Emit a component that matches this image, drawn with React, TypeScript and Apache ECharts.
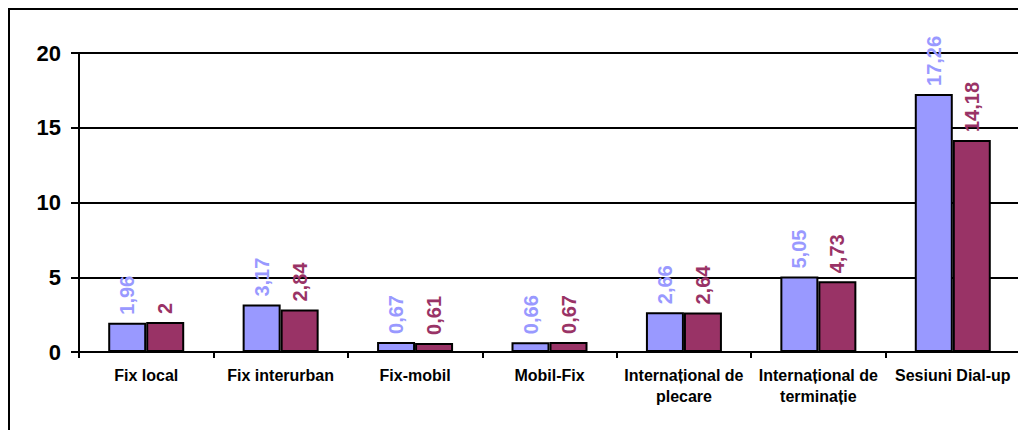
import React, { useEffect, useRef } from "react";
import * as echarts from "echarts";

const categories = [
  "Fix local",
  "Fix interurban",
  "Fix-mobil",
  "Mobil-Fix",
  "Internațional de\nplecare",
  "Internațional de\nterminație",
  "Sesiuni Dial-up",
];
const seriesA = [1.96, 3.17, 0.67, 0.66, 2.66, 5.05, 17.26];
const seriesB = [2, 2.84, 0.61, 0.67, 2.64, 4.73, 14.18];
const yTicks = { min: 0, max: 20, interval: 5 };

const FONT = 'Arial, "Liberation Sans", sans-serif';

export default function App() {
  const ref = useRef<HTMLDivElement>(null);
  useEffect(() => {
    document.body.style.overflow = "hidden";
    const chart = echarts.init(ref.current!, null, { renderer: "svg" });
    const mkSeries = (data: number[], color: string) => ({
      type: "bar",
      data,
      barWidth: 38,
      barGap: "0%",
      itemStyle: { color, borderColor: "#000", borderWidth: 2 },
      label: {
        show: true,
        position: "top",
        rotate: 90,
        align: "left",
        verticalAlign: "middle",
        distance: 8,
        color,
        fontFamily: FONT,
        fontWeight: "bold",
        fontSize: 20,
        formatter: (p: any) => String(p.value).replace(".", ","),
      },
    });
    chart.setOption({
      animation: false,
      backgroundColor: "#fff",
      grid: { left: 69, top: 43, width: 941, height: 299 },
      xAxis: {
        type: "category",
        data: categories,
        axisLine: { lineStyle: { color: "#000", width: 2 } },
        axisTick: { show: true, length: 6, lineStyle: { color: "#000", width: 2 } },
        axisLabel: {
          color: "#000",
          fontFamily: FONT,
          fontWeight: "bold",
          fontSize: 16,
          lineHeight: 21,
          margin: 13,
          interval: 0,
        },
      },
      yAxis: {
        type: "value",
        min: yTicks.min,
        max: yTicks.max,
        interval: yTicks.interval,
        axisLine: { show: true, lineStyle: { color: "#000", width: 2 } },
        axisTick: { show: true, length: 8, lineStyle: { color: "#000", width: 2 } },
        axisLabel: {
          color: "#000",
          fontFamily: FONT,
          fontWeight: "bold",
          fontSize: 22,
          margin: 18,
        },
        splitLine: { show: true, lineStyle: { color: "#000", width: 2 } },
      },
      series: [mkSeries(seriesA, "#9999FF"), mkSeries(seriesB, "#993366")],
    });
    return () => chart.dispose();
  }, []);
  return (
    <div
      style={{
        width: 1030,
        height: 430,
        borderLeft: "2px solid #000",
        borderTop: "2px solid #000",
        background: "#fff",
        overflow: "hidden",
      }}
    >
      <div ref={ref} style={{ width: 1016, height: 420 }} />
    </div>
  );
}
